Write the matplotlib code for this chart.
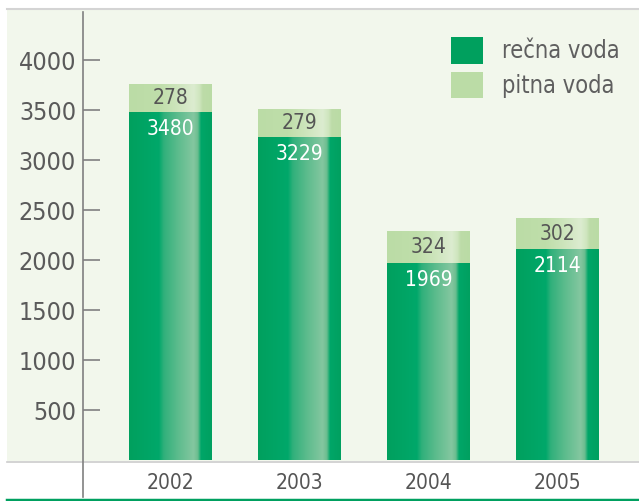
import numpy as np
import matplotlib
matplotlib.use("Agg")
import matplotlib.pyplot as plt
from matplotlib.colors import LinearSegmentedColormap
from matplotlib.lines import Line2D
from matplotlib.patches import Rectangle, Patch

# podatki
years = ["2002", "2003", "2004", "2005"]
recna = [3480, 3229, 1969, 2114]
pitna = [278, 279, 324, 302]
yticks = [500, 1000, 1500, 2000, 2500, 3000, 3500, 4000]
labels = ["rečna voda", "pitna voda"]

plt.rcParams['font.family'] = ['DejaVu Sans']
plt.rcParams['font.stretch'] = 'condensed'

W, H = 639, 501
fig = plt.figure(figsize=(W / 100, H / 100), dpi=100)
fig.patch.set_facecolor("white")

def fx(px):
    return px / W

def fy(py):
    return 1 - py / H

# ozadje panela
fig.add_artist(Rectangle((fx(7), fy(461)), 1 - fx(7), fy(10) - fy(461),
                         transform=fig.transFigure, facecolor="#f2f7ec",
                         edgecolor="none", zorder=0))
fig.add_artist(Line2D([fx(7), 1], [fy(9), fy(9)], transform=fig.transFigure,
                      color="#d4d4d4", lw=1.5))
fig.add_artist(Line2D([fx(7), 1], [fy(461.5), fy(461.5)], transform=fig.transFigure,
                      color="#cccccc", lw=1.2))
fig.add_artist(Line2D([fx(7), 1], [fy(499.5), fy(499.5)], transform=fig.transFigure,
                      color="#00a060", lw=2.5))
fig.add_artist(Line2D([fx(83), fx(83)], [fy(12), fy(497)], transform=fig.transFigure,
                      color="#808080", lw=1.2))

ax = fig.add_axes([fx(83), fy(462), 1 - fx(83), fy(10) - fy(462)])
ax.set_facecolor("none")
for s in ax.spines.values():
    s.set_visible(False)

x = np.arange(len(years))
w = 0.643

dark_cmap = LinearSegmentedColormap.from_list("dark", [
    (0.0, "#00a05e"), (0.36, "#00a86a"), (0.42, "#30b07b"), (0.58, "#5abb8c"),
    (0.78, "#84c7a0"), (0.83, "#6cbd90"), (0.87, "#00a668"), (1.0, "#00a060")])
light_cmap = LinearSegmentedColormap.from_list("light", [
    (0.0, "#bbdca6"), (0.36, "#bfdeaa"), (0.58, "#cde5bc"),
    (0.78, "#dcecd0"), (0.85, "#cfe6bf"), (0.89, "#bddca8"), (1.0, "#badba5")])
grad = np.linspace(0, 1, 256).reshape(1, -1)

b1 = ax.bar(x, recna, w, color="none", edgecolor="none")
b2 = ax.bar(x, pitna, w, bottom=recna, color="none", edgecolor="none")

for bars, cmap in ((b1, dark_cmap), (b2, light_cmap)):
    for p in bars:
        x0, y0 = p.get_x(), p.get_y()
        im = ax.imshow(grad, cmap=cmap, aspect="auto", interpolation="bilinear",
                       extent=[x0, x0 + p.get_width(), y0, y0 + p.get_height()],
                       zorder=2)
        im.set_clip_path(p)

for i in range(len(years)):
    ax.text(x[i], recna[i] - 170, str(recna[i]), ha="center", va="center",
            color="white", fontsize=15, zorder=3)
    ax.text(x[i], recna[i] + pitna[i] / 2, str(pitna[i]), ha="center", va="center",
            color="#555555", fontsize=15, zorder=3)

ax.set_xlim(-0.678, 3.632)
ax.set_ylim(-20, 4500)
ax.set_yticks(yticks)
ax.set_yticklabels([str(v) for v in yticks])
ax.tick_params(axis="y", direction="in", length=12, width=1.2, color="#808080",
               labelsize=18, labelcolor="#5a5a5a", pad=5)
ax.set_xticks(x)
ax.set_xticklabels(years)
ax.tick_params(axis="x", length=0, labelsize=15, labelcolor="#555555", pad=8)

handles = [Patch(facecolor="#00a05e", edgecolor="none"),
           Patch(facecolor="#bbdca6", edgecolor="none")]
leg = fig.legend(handles, labels, loc="upper left",
                 bbox_to_anchor=(fx(451), fy(37)), bbox_transform=fig.transFigure,
                 frameon=False, fontsize=17, handlelength=1.35, handleheight=1.35,
                 handletextpad=0.8, labelspacing=0.35, borderpad=0, borderaxespad=0)
for t in leg.get_texts():
    t.set_color("#5f5f5f")

fig.savefig("out.png", dpi=100)
